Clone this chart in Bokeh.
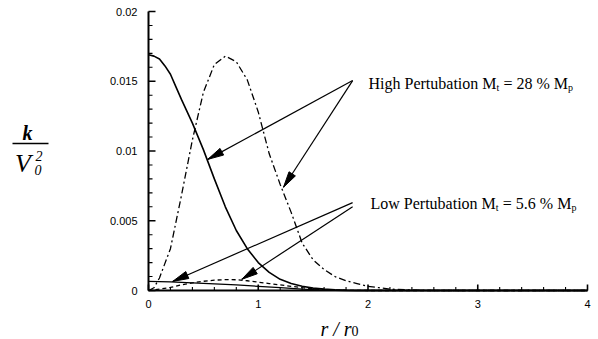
import math
from bokeh.plotting import figure
from bokeh.models import SingleIntervalTicker, ColumnDataSource, Range1d
from bokeh.core.properties import value
from bokeh.embed import file_html
from bokeh.resources import INLINE

# ---------------- data ----------------
r_high_solid = [0, 0.05, 0.1, 0.15, 0.2, 0.25, 0.3, 0.4, 0.5, 0.6, 0.7, 0.8,
                0.9, 1.0, 1.1, 1.2, 1.3, 1.4, 1.5, 1.6, 1.7, 1.8, 1.9, 2.0, 4.0]
k_high_solid = [0.0169, 0.0168, 0.0166, 0.0161, 0.0155, 0.0146, 0.0137, 0.0120,
                0.0101, 0.0080, 0.0060, 0.0043, 0.0030, 0.0020, 0.0013, 0.0008,
                0.0005, 0.0003, 0.00017, 0.0001, 0.00005, 0.00002, 0.0, 0.0, 0.0]

r_high_dd = [0, 0.05, 0.1, 0.2, 0.3, 0.4, 0.5, 0.6, 0.7, 0.8, 0.9, 1.0, 1.1,
             1.2, 1.3, 1.4, 1.5, 1.6, 1.7, 1.8, 1.9, 2.0, 2.1, 2.2, 2.4, 2.6, 4.0]
k_high_dd = [0.0, 0.0002, 0.0009, 0.0030, 0.0068, 0.0108, 0.0142, 0.0162,
             0.0168, 0.0164, 0.0151, 0.0128, 0.0098, 0.0076, 0.0056, 0.0034,
             0.0022, 0.0015, 0.0010, 0.0007, 0.0005, 0.0003, 0.0002, 0.0001,
             0.00003, 0.0, 0.0]

r_low_solid = [0, 0.2, 0.4, 0.6, 0.8, 1.0, 1.2, 1.4, 1.6, 1.8, 4.0]
k_low_solid = [0.00065, 0.00062, 0.00055, 0.00048, 0.0004, 0.0003, 0.0002,
               0.0001, 0.00003, 0.0, 0.0]

r_low_dash = [0, 0.1, 0.2, 0.3, 0.4, 0.5, 0.6, 0.7, 0.8, 0.9, 1.0, 1.1, 1.2,
              1.3, 1.4, 1.5, 1.6, 1.8, 2.0, 4.0]
k_low_dash = [0.0, 0.0001, 0.00022, 0.0004, 0.00055, 0.00066, 0.00074, 0.00078,
              0.00077, 0.0007, 0.0006, 0.0005, 0.0004, 0.0003, 0.0002, 0.00012,
              0.00006, 0.00001, 0.0, 0.0]

# annotation arrows (start -> tip)
arrow_x0 = [1.86, 1.86, 1.86, 1.86]
arrow_y0 = [0.01505, 0.01505, 0.0063, 0.0060]
arrow_x1 = [0.54, 1.23, 0.22, 0.85]
arrow_y1 = [0.0094, 0.0074, 0.00065, 0.0008]

x_tick_values = [0, 1, 2, 3, 4]
x_tick_labels = ["0", "1", "2", "3", "4"]
y_tick_values = [0, 0.005, 0.01, 0.015, 0.02]
y_tick_labels = ["0", "0.005", "0.01", "0.015", "0.02"]
n_minor = 5

high_text = ["High Pertubation M", "t", "= 28 % M", "p"]
low_text = ["Low Pertubation M", "t", "= 5.6 % M", "p"]

# ---------------- layout: the frame covers the whole canvas ----------------
W, H = 598, 339
X0_PX, X_PER_UNIT = 148.0, 109.75      # pixel of r=0, pixels per unit r
Y0_PX, Y_PER_UNIT = 290.0, 13950.0     # pixel of k=0, pixels per unit k


def px_x(px):
    return (px - X0_PX) / X_PER_UNIT


def px_y(py):
    return (Y0_PX - py) / Y_PER_UNIT


p = figure(width=W, height=H,
           x_range=Range1d(px_x(0), px_x(W)), y_range=Range1d(px_y(H), px_y(0)),
           min_border=0, toolbar_location=None, output_backend="svg")
p.outline_line_color = None
p.xgrid.visible = False
p.ygrid.visible = False
p.background_fill_color = "white"
p.border_fill_color = "white"

for ax in (p.xaxis[0], p.yaxis[0]):
    ax.fixed_location = 0
    ax.axis_line_width = 2
    ax.axis_line_color = "black"
    ax.major_tick_line_color = None
    ax.minor_tick_line_color = None
    ax.major_label_text_font = "Liberation Sans"
    ax.major_label_text_font_size = "11px"
    ax.major_label_text_color = "black"

p.xaxis.bounds = (x_tick_values[0], x_tick_values[-1])
p.yaxis.bounds = (y_tick_values[0], y_tick_values[-1])
p.xaxis.ticker = SingleIntervalTicker(interval=1, num_minor_ticks=n_minor)
p.yaxis.ticker = SingleIntervalTicker(interval=0.005, num_minor_ticks=n_minor)
p.xaxis.major_label_overrides = {v: t for v, t in zip(x_tick_values, x_tick_labels)}
p.yaxis.major_label_overrides = {v: t for v, t in zip(y_tick_values, y_tick_labels)}
p.xaxis.major_label_standoff = 3
p.yaxis.major_label_standoff = 5

# inward tick marks (drawn as segments from the tick value lists)
def minors(vals):
    out = []
    for a, b in zip(vals[:-1], vals[1:]):
        for k in range(1, n_minor):
            out.append(a + (b - a) * k / n_minor)
    return out


x_min = minors(x_tick_values)
y_min = minors(y_tick_values)
p.segment(x0=x_tick_values, y0=[0] * len(x_tick_values), x1=x_tick_values,
          y1=[6 / Y_PER_UNIT] * len(x_tick_values), line_color="black", line_width=1.6)
p.segment(x0=x_min, y0=[0] * len(x_min), x1=x_min,
          y1=[3.5 / Y_PER_UNIT] * len(x_min), line_color="black", line_width=1.1)
p.segment(x0=[0] * len(y_tick_values), y0=y_tick_values,
          x1=[7 / X_PER_UNIT] * len(y_tick_values), y1=y_tick_values,
          line_color="black", line_width=1.6)
p.segment(x0=[0] * len(y_min), y0=y_min, x1=[4 / X_PER_UNIT] * len(y_min),
          y1=y_min, line_color="black", line_width=1.1)

# ---------------- curves ----------------
p.line(r_high_solid, k_high_solid, line_color="black", line_width=1.6)
p.line(r_high_dd, k_high_dd, line_color="black", line_width=1.3,
       line_dash="7 3 2 3")
p.line(r_low_solid, k_low_solid, line_color="black", line_width=1.3)
p.line(r_low_dash, k_low_dash, line_color="black", line_width=1.3,
       line_dash="4 3")

# ---------------- arrows ----------------
p.segment(x0=arrow_x0, y0=arrow_y0, x1=arrow_x1, y1=arrow_y1,
          line_color="black", line_width=1.2)

sx, sy = X_PER_UNIT, Y_PER_UNIT


def head(x0, y0, x1, y1, L=16.0, hw=3.8):
    dx = (x0 - x1) * sx
    dy = (y0 - y1) * sy
    d = math.hypot(dx, dy)
    ux, uy = dx / d, dy / d
    bx = x1 * sx + ux * L
    by = y1 * sy + uy * L
    nx, ny = -uy, ux
    xs = [x1, (bx + nx * hw) / sx, (bx - nx * hw) / sx]
    ys = [y1, (by + ny * hw) / sy, (by - ny * hw) / sy]
    return xs, ys


hx, hy = [], []
for a, b, c, d in zip(arrow_x0, arrow_y0, arrow_x1, arrow_y1):
    xs, ys = head(a, b, c, d)
    hx.append(xs)
    hy.append(ys)
p.patches(hx, hy, fill_color="black", line_color="black", line_width=1)

# ---------------- in-plot labels ----------------
def add_label(pieces, x, y, offs):
    src = ColumnDataSource(dict(
        x=[x] * 4, y=[y] * 4, text=pieces, xo=list(offs),
        yo=[0, 4, 0, 4], fs=["16px", "10px", "16px", "10px"]))
    p.text(x="x", y="y", text="text", source=src, x_offset="xo", y_offset="yo",
           text_font_size="fs", text_font=value("Liberation Serif"),
           text_baseline="alphabetic", text_align="left", text_color="black")


add_label(high_text, px_x(368), px_y(83.3), [0, 128, 135, 199.6])
add_label(low_text, px_x(370), px_y(203.3), [0, 125.3, 132.3, 201])

# ---------------- axis titles ----------------
def lab(text, x, y, size, align="left", style="italic"):
    p.text(x=[x], y=[y], text=[text], text_font=value("Liberation Serif"),
           text_font_style=style, text_font_size=size, text_align=align,
           text_baseline="alphabetic", text_color="black")


lab("k", px_x(27), px_y(132), "20px", align="center", style="bold italic")
p.segment(x0=[px_x(12)], y0=[px_y(143)], x1=[px_x(48)], y1=[px_y(143)],
          line_color="black", line_width=1.5)
lab("V", px_x(22.5), px_y(163), "26px", align="center")
lab("2", px_x(38.5), px_y(155), "14px", align="center")
lab("0", px_x(37.5), px_y(169), "14px", align="center")

lab("r / r", px_x(320), px_y(328), "20px")
lab("0", px_x(351), px_y(330), "14px", style="normal")

open("out.html", "w").write(file_html(p, INLINE))
